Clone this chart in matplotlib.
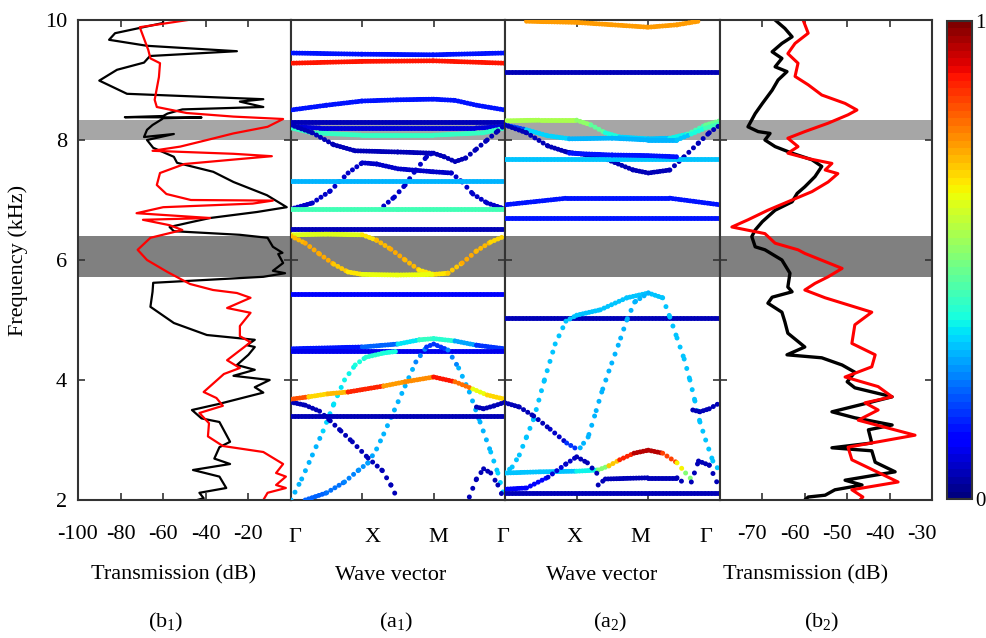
import numpy as np
import matplotlib
matplotlib.use('Agg')
import matplotlib.pyplot as plt
from matplotlib.collections import LineCollection
from matplotlib.transforms import ScaledTranslation
from matplotlib.cm import ScalarMappable
from matplotlib.colors import Normalize

plt.rcParams['font.family'] = ['Liberation Serif', 'DejaVu Serif']
plt.rcParams['mathtext.fontset'] = 'custom'
plt.rcParams['mathtext.rm'] = 'Liberation Serif'
plt.rcParams['mathtext.it'] = 'Liberation Serif:italic'

# ---- data ----
# band gaps (kHz)
gap_dark = (5.72, 6.40)
gap_light = (8.00, 8.33)

# (b1) transmission, dB vs frequency (kHz)
b1_black_db = [-60, -60.1, -82.6, -85.4, -67.6, -25.4, -66.2, -69, -81.7, -90, -77, -13, -24, -13, -51, -58,
               -60, -78, -42, -60, -65, -67.6, -69, -55, -67.6, -64.7, -55, -53.5, -36.5, -27, -11.3, -2,
               -16, -38, -47, -57, -55, -24, -11, -8.5, -4, -6, -3.7, -8.5, -2.8, -13, -64.7, -65, -66, -55,
               -39.5, -17, -20.7, -17, -20, -25.4, -17, -27, -10, -17, -13, -34, -46.5, -42, -33.6, -28.6,
               -33.6, -36, -28.6, -46, -33.6, -30.4, -43, -41, -44]
b1_black_f = [10.0, 9.95, 9.78, 9.67, 9.57, 9.48, 9.40, 9.29, 9.17, 8.99, 8.77, 8.68, 8.64, 8.55, 8.51, 8.44,
              8.40, 8.38, 8.375, 8.36, 8.25, 8.17, 8.05, 8.10, 8.0, 7.87, 7.72, 7.62, 7.47, 7.30, 7.08, 6.88,
              6.80, 6.70, 6.63, 6.55, 6.48, 6.42, 6.37, 6.22, 6.12, 6.10, 5.95, 5.82, 5.78, 5.72, 5.62, 5.47,
              5.22, 4.95, 4.75, 4.67, 4.58, 4.55, 4.42, 4.25, 4.17, 4.07, 4.0, 3.88, 3.79, 3.60, 3.50, 3.36,
              3.30, 2.97, 2.88, 2.69, 2.60, 2.50, 2.39, 2.20, 2.12, 2.03, 2.0]
b1_red_db = [-48.4, -71, -67, -66, -61.5, -62, -64, -63, -49, -27, -3.7, -11, -27, -39.4, -52, -65, -27, -9,
             -25, -50, -61.5, -63, -58.5, -47, -8.5, -18, -60, -72.5, -38, -69.5, -57, -51, -66, -72, -67.6,
             -58, -47.4, -36.6, -25.4, -19, -30, -19, -24, -24, -19, -30, -24, -31.5, -41, -35, -32, -43,
             -38.5, -39, -32, -13, -3.7, -7, -2.4, -7, -2.4, -11, -13]
b1_red_f = [10.0, 9.88, 9.50, 9.36, 9.28, 9.05, 8.67, 8.55, 8.45, 8.39, 8.35, 8.22, 8.11, 8.0, 7.89, 7.82,
            7.77, 7.73, 7.68, 7.60, 7.45, 7.25, 7.10, 7.0, 6.99, 6.94, 6.88, 6.78, 6.70, 6.67, 6.58, 6.50,
            6.37, 6.17, 6.0, 5.80, 5.60, 5.50, 5.45, 5.37, 5.20, 5.12, 4.90, 4.73, 4.63, 4.33, 4.20, 4.10,
            3.80, 3.70, 3.57, 3.45, 3.28, 3.06, 2.90, 2.80, 2.60, 2.45, 2.39, 2.25, 2.20, 2.12, 2.0]

# (b2) transmission, dB vs frequency (kHz)
b2_black_db = [-67, -64.7, -63, -65.4, -67.7, -65.4, -67, -64.2, -66.3, -67.7, -70, -71.7, -73.4, -71, -68.2,
               -69.4, -67, -63, -58.3, -56, -57.6, -60, -61.8, -63, -67, -70, -71.7, -72.5, -71.7, -69.4,
               -65.4, -63.5, -64, -63, -67.7, -68.7, -65.4, -64.7, -64, -60, -64.2, -56, -51.2, -48.2, -50,
               -48.2, -39.4, -45, -53.6, -48.2, -39.4, -45, -44.2, -53.6, -44.2, -43.4, -38.7, -50.5, -46.5,
               -52.9, -55.2, -59.2, -60]
b2_black_f = [10.0, 9.86, 9.72, 9.61, 9.47, 9.36, 9.22, 9.14, 9.0, 8.83, 8.61, 8.44, 8.22, 8.14, 8.11, 8.0,
              7.89, 7.78, 7.67, 7.56, 7.39, 7.22, 7.11, 6.97, 6.83, 6.64, 6.50, 6.39, 6.22, 6.17, 6.0, 5.78,
              5.55, 5.47, 5.38, 5.28, 5.13, 4.97, 4.78, 4.55, 4.42, 4.37, 4.25, 4.13, 3.97, 3.87, 3.72, 3.62,
              3.47, 3.37, 3.25, 3.17, 2.95, 2.87, 2.82, 2.63, 2.47, 2.33, 2.25, 2.17, 2.08, 2.05, 2.0]
b2_red_db = [-60.4, -59.2, -62.3, -64, -61.6, -62.3, -59.2, -56, -50.5, -47.7, -49.8, -54.5, -60, -64, -61.6,
             -64, -59.2, -53.6, -55.2, -52.2, -54.5, -58.3, -63, -68.7, -73.4, -77.2, -69.4, -67, -61.6, -60,
             -51.2, -54.5, -57.6, -60, -55.2, -44.2, -48.2, -48.9, -43.4, -44.2, -50.5, -42.7, -39.4, -45.8,
             -42.7, -47.4, -34, -49.8, -48.9, -38, -48.9, -46.3, -47]
b2_red_f = [10.0, 9.78, 9.61, 9.44, 9.28, 9.06, 8.92, 8.75, 8.61, 8.50, 8.42, 8.28, 8.14, 8.03, 7.89, 7.78,
            7.69, 7.61, 7.50, 7.44, 7.30, 7.14, 7.0, 6.83, 6.67, 6.55, 6.44, 6.28, 6.17, 6.11, 5.86, 5.72,
            5.61, 5.50, 5.37, 5.13, 4.92, 4.61, 4.42, 4.22, 4.05, 3.89, 3.72, 3.62, 3.50, 3.33, 3.08, 2.88,
            2.67, 2.30, 2.17, 2.05, 2.0]

# band structures: (wave vector position 0..3 = G-X-M-G, frequency kHz, polarization weight 0..1)
a1_bands = [
    ([0, 1, 2, 3], [9.45, 9.43, 9.42, 9.45], 0.15),
    ([0, 1, 2, 3], [9.28, 9.31, 9.32, 9.28], 0.88),
    ([0, 0.5, 1.0, 1.5, 2.0, 2.3, 2.6, 3], [8.50, 8.58, 8.65, 8.67, 8.68, 8.66, 8.58, 8.50], 0.15),
    ([0, 3], [8.30, 8.30], 0.05),
    ([0, 0.4, 2.6, 3], [8.22, 8.20, 8.20, 8.22], 0.08),
    ([0, 0.3, 1, 2, 2.7, 3], [8.20, 8.12, 8.08, 8.08, 8.12, 8.20], 0.42),
    ([0, 0.3, 0.6, 0.9, 1.5, 2.0, 2.15, 2.3, 2.45, 2.6, 2.75, 2.9, 3],
     [8.25, 8.12, 7.92, 7.82, 7.80, 7.78, 7.72, 7.64, 7.70, 7.85, 8.0, 8.15, 8.25], 0.05),
    ([0, 0.3, 0.55, 0.8, 1.0, 1.2, 1.5, 2.0, 2.25, 2.4, 2.55, 2.75, 3],
     [6.85, 6.95, 7.15, 7.45, 7.62, 7.60, 7.52, 7.47, 7.45, 7.30, 7.10, 6.95, 6.85], 0.07),
    ([1.3, 1.45, 1.6, 1.75, 1.9, 2.0], [6.90, 7.05, 7.25, 7.50, 7.72, 7.80], 0.07),
    ([0, 3], [7.32, 7.32], 0.30),
    ([0, 1.5, 3], [6.85, 6.85, 6.85], [0.40, 0.45, 0.40]),
    ([0, 3], [6.52, 6.52], 0.05),
    ([0, 0.5, 1.0, 1.2, 1.4, 1.6, 1.8, 2.0, 2.2, 2.4, 2.6, 2.8, 3],
     [6.42, 6.43, 6.42, 6.33, 6.18, 6.0, 5.83, 5.76, 5.78, 5.95, 6.15, 6.30, 6.40],
     [0.62, 0.62, 0.62, 0.70, 0.72, 0.72, 0.70, 0.64, 0.68, 0.72, 0.72, 0.70, 0.66]),
    ([0, 0.2, 0.4, 0.6, 0.8, 1.0, 1.5, 2.0], [6.40, 6.28, 6.10, 5.93, 5.80, 5.76, 5.75, 5.76],
     [0.70, 0.72, 0.72, 0.72, 0.68, 0.64, 0.63, 0.64]),
    ([0, 3], [5.43, 5.43], 0.12),
    ([0, 1.0, 1.5, 1.8, 2.0, 2.3, 2.6, 3], [4.52, 4.55, 4.60, 4.67, 4.69, 4.65, 4.58, 4.52],
     [0.15, 0.15, 0.30, 0.40, 0.42, 0.38, 0.20, 0.15]),
    ([0, 3], [4.48, 4.48], 0.10),
    ([0, 0.15, 0.3, 0.45, 0.6, 0.75, 0.9, 1.05, 1.3, 1.5],
     [2.0, 2.35, 2.75, 3.15, 3.60, 4.0, 4.25, 4.38, 4.45, 4.48],
     [0.30, 0.30, 0.30, 0.32, 0.34, 0.36, 0.38, 0.40, 0.40, 0.38]),
    ([0.2, 0.5, 0.75, 0.95, 1.08, 1.2, 1.3, 1.45, 1.6, 1.75, 1.9, 2.0, 2.2, 2.35, 2.5, 2.65, 2.8, 2.9, 3.0],
     [2.0, 2.12, 2.30, 2.50, 2.62, 2.85, 3.10, 3.50, 3.90, 4.30, 4.55, 4.60, 4.50, 4.20, 3.80, 3.30, 2.80,
      2.45, 2.0],
     [0.22, 0.24, 0.25, 0.26, 0.28, 0.30, 0.30, 0.30, 0.30, 0.30, 0.20, 0.15, 0.20, 0.30, 0.30, 0.30, 0.32,
      0.33, 0.33]),
    ([0, 0.2, 0.4, 0.55, 0.7, 0.86, 1.08, 1.28, 1.4, 1.5],
     [3.63, 3.58, 3.48, 3.32, 3.15, 2.97, 2.70, 2.49, 2.25, 2.0], 0.05),
    ([0, 3], [3.40, 3.40], 0.05),
    ([0, 0.25, 0.52, 0.8, 1.0, 1.3, 1.6, 2.0, 2.3, 2.55, 2.75, 3],
     [3.68, 3.72, 3.77, 3.80, 3.84, 3.90, 3.97, 4.05, 3.97, 3.85, 3.75, 3.68],
     [0.84, 0.80, 0.55, 0.86, 0.87, 0.87, 0.62, 0.89, 0.87, 0.70, 0.55, 0.82]),
    ([2.5, 2.6, 2.7, 2.8, 2.9, 2.97], [2.05, 2.35, 2.52, 2.45, 2.25, 2.05], 0.05),
    ([2.6, 2.7, 2.85, 3], [3.55, 3.52, 3.57, 3.63], 0.05),
]

a2_bands = [
    ([0.3, 1.0, 1.5, 2.0, 2.4, 2.7], [9.98, 9.96, 9.92, 9.88, 9.92, 9.98], 0.74),
    ([0, 3], [9.13, 9.13], 0.05),
    ([0, 0.5, 1.0, 1.2, 1.4, 1.6, 2.0, 2.3, 2.55, 2.8, 3],
     [8.32, 8.33, 8.33, 8.25, 8.12, 8.05, 8.02, 8.03, 8.10, 8.25, 8.32],
     [0.55, 0.56, 0.56, 0.50, 0.42, 0.35, 0.32, 0.33, 0.40, 0.45, 0.50]),
    ([0, 0.3, 0.6, 0.9, 1.5, 2.0, 2.4, 2.6, 2.8, 3],
     [8.25, 8.17, 8.07, 8.02, 8.03, 8.0, 8.0, 8.10, 8.20, 8.27],
     [0.10, 0.30, 0.38, 0.30, 0.30, 0.30, 0.30, 0.35, 0.40, 0.45]),
    ([0, 0.3, 0.6, 0.86, 1.33, 1.79, 2.0, 2.3, 2.5, 2.7, 2.85, 3],
     [8.25, 8.12, 7.90, 7.80, 7.72, 7.50, 7.45, 7.50, 7.72, 7.95, 8.12, 8.25], 0.05),
    ([0, 3], [7.68, 7.68], 0.32),
    ([0.9, 1.5, 2.0, 2.4], [7.78, 7.75, 7.74, 7.72], 0.15),
    ([0, 0.86, 2.3, 3], [6.92, 7.03, 7.03, 6.92], 0.15),
    ([0, 3], [6.70, 6.70], 0.15),
    ([0, 3], [5.03, 5.03], 0.05),
    ([0, 0.1, 0.2, 0.3, 0.4, 0.55, 0.7, 0.85, 1.0, 1.33, 1.7, 2.0, 2.2, 2.3, 2.4, 2.5, 2.58, 2.65, 2.72,
      2.8, 2.9, 3.0],
     [2.45, 2.55, 2.75, 3.05, 3.35, 4.0, 4.6, 4.98, 5.08, 5.17, 5.37, 5.45, 5.37, 5.05, 4.70, 4.35, 4.0,
      3.65, 3.30, 3.0, 2.65, 2.47], 0.32),
    ([2.0, 1.81, 1.7, 1.58, 1.45, 1.35, 1.25, 1.16, 1.05, 1.0],
     [5.45, 5.30, 5.0, 4.58, 4.15, 3.80, 3.40, 3.05, 2.87, 2.83], 0.30),
    ([0, 0.2, 0.4, 0.63, 0.86, 1.0], [3.62, 3.55, 3.40, 3.18, 2.95, 2.85],
     [0.05, 0.05, 0.05, 0.05, 0.10, 0.25]),
    ([2.62, 2.72, 2.85, 3], [3.50, 3.47, 3.52, 3.62], 0.05),
    ([0, 0.5, 1.0, 1.3, 1.45, 1.6, 1.8, 2.0, 2.2, 2.4, 2.52, 2.65],
     [2.45, 2.47, 2.48, 2.50, 2.57, 2.67, 2.78, 2.83, 2.78, 2.62, 2.45, 2.28],
     [0.32, 0.32, 0.33, 0.40, 0.60, 0.80, 0.92, 0.98, 0.92, 0.75, 0.55, 0.45]),
    ([0, 0.3, 0.6, 0.85, 1.0, 1.15, 1.3], [2.18, 2.20, 2.38, 2.60, 2.72, 2.62, 2.42],
     [0.12, 0.12, 0.10, 0.08, 0.05, 0.05, 0.05]),
    ([1.3, 1.4, 2.0, 2.4, 2.5], [2.25, 2.35, 2.37, 2.37, 2.28], 0.05),
    ([2.6, 2.7, 2.85, 3.0], [2.30, 2.65, 2.58, 2.18], 0.05),
    ([0, 3], [2.12, 2.12], 0.05),
]

kpath_labels = ['Γ', 'X', 'M', 'Γ', 'X', 'M', 'Γ']
kpath_label_px = [295, 373, 438, 503, 575, 640, 706]

cmap = plt.get_cmap('jet', 64)
spine_col = '#333333'
W, H = 987, 638


def draw_band(ax, k, f, c, lw=3.6):
    k = np.asarray(k, float)
    f = np.asarray(f, float)
    c = np.broadcast_to(np.asarray(c, float), k.shape)
    segs, cols, styles = [], [], []
    for i in range(len(k) - 1):
        segs.append([(k[i], f[i]), (k[i + 1], f[i + 1])])
        cols.append(cmap(0.5 * (c[i] + c[i + 1])))
        # steep parts of the curve look sparser (uniform k sampling)
        dk = abs(k[i + 1] - k[i]) * 71.0
        df = abs(f[i + 1] - f[i]) * 60.0
        steep = (df / max(np.hypot(dk, df), 1e-9)) ** 2
        styles.append((0, (0.01, 0.55 + 1.5 * steep)))
    lc = LineCollection(segs, colors=cols, linewidths=lw, linestyles=styles,
                        capstyle='round', zorder=3)
    ax.add_collection(lc)


def style_axis(ax):
    ax.set_ylim(2, 10)
    ax.set_yticks([2, 4, 6, 8, 10])
    ax.tick_params(direction='in', top=True, right=True, length=5, width=1.2,
                   color=spine_col, labelsize=16, pad=8)
    ax.tick_params(axis='x', pad=18)
    for s in ax.spines.values():
        s.set_linewidth(1.5)
        s.set_color(spine_col)
    ax.axhspan(*gap_dark, color='#808080', lw=0, zorder=0)
    ax.axhspan(*gap_light, color='#a6a6a6', lw=0, zorder=0)


fig = plt.figure(figsize=(9.87, 6.38), dpi=100)
bottom, height = 1 - 500 / H, 480 / H
ax_b1 = fig.add_axes([78 / W, bottom, 213 / W, height])
ax_a1 = fig.add_axes([291 / W, bottom, 214 / W, height])
ax_a2 = fig.add_axes([505 / W, bottom, 215 / W, height])
ax_b2 = fig.add_axes([720 / W, bottom, 212 / W, height])
cax = fig.add_axes([947 / W, 1 - 499 / H, 25 / W, 478 / H])

for ax in [ax_b1, ax_a1, ax_a2, ax_b2]:
    style_axis(ax)
for ax in [ax_a1, ax_a2, ax_b2]:
    ax.tick_params(labelleft=False)

# (b1)
ax_b1.plot(b1_black_db, b1_black_f, color='black', lw=1.6, zorder=2)
ax_b1.plot(b1_red_db, b1_red_f, color='red', lw=1.6, zorder=2)
ax_b1.set_xlim(-100, 0)
ax_b1.set_xticks([-100, -80, -60, -40, -20, 0])
ax_b1.set_xticklabels(['-100', '-80', '-60', '-40', '-20', ''])

# (a1), (a2)
for ax, bands in [(ax_a1, a1_bands), (ax_a2, a2_bands)]:
    for k, f, c in bands:
        draw_band(ax, k, f, c)
    ax.set_xlim(0, 3)
    ax.set_xticks([0, 1, 2, 3])
    ax.set_xticklabels([])

# (b2)
ax_b2.plot(b2_black_db, b2_black_f, color='black', lw=2.4, zorder=2)
ax_b2.plot(b2_red_db, b2_red_f, color='red', lw=2.2, zorder=2)
ax_b2.set_xlim(-80, -30)
ax_b2.set_xticks([-70, -60, -50, -40, -30])
ax_b2.set_xticklabels(['-70', '-60', '-50', '-40', '-30'])
shift = ScaledTranslation(-10 / 100, 0, fig.dpi_scale_trans)
for lab in ax_b2.get_xticklabels():
    lab.set_transform(lab.get_transform() + shift)

# colorbar
cb = fig.colorbar(ScalarMappable(norm=Normalize(0, 1), cmap=cmap), cax=cax)
cb.set_ticks([0, 1])
cb.set_ticklabels(['0', '1'])
cb.ax.tick_params(length=0, labelsize=15, pad=2)
cb.outline.set_linewidth(1.5)
cb.outline.set_edgecolor(spine_col)

# labels
fig.text(18 / W, 1 - 260 / H, 'Frequency (kHz)', rotation=90, ha='center', va='center', fontsize=16)
for lab, px in zip(kpath_labels, kpath_label_px):
    fig.text(px / W, 1 - 537 / H, lab, ha='center', va='center', fontsize=16)
fig.text(174 / W, 1 - 575 / H, 'Transmission (dB)', ha='center', va='center', fontsize=16)
fig.text(391 / W, 1 - 575 / H, 'Wave vector', ha='center', va='center', fontsize=16)
fig.text(602 / W, 1 - 575 / H, 'Wave vector', ha='center', va='center', fontsize=16)
fig.text(806 / W, 1 - 575 / H, 'Transmission (dB)', ha='center', va='center', fontsize=16)
fig.text(166 / W, 1 - 622 / H, '(b$_1$)', ha='center', va='center', fontsize=16)
fig.text(396 / W, 1 - 622 / H, '(a$_1$)', ha='center', va='center', fontsize=16)
fig.text(610 / W, 1 - 622 / H, '(a$_2$)', ha='center', va='center', fontsize=16)
fig.text(822 / W, 1 - 622 / H, '(b$_2$)', ha='center', va='center', fontsize=16)

fig.savefig('out.png', dpi=100)
